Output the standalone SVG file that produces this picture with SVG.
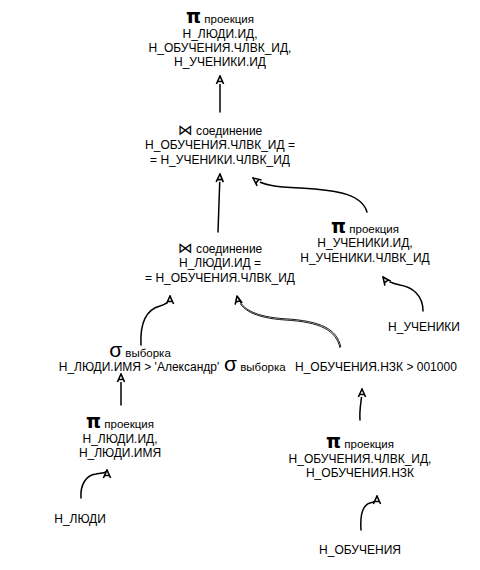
<svg xmlns="http://www.w3.org/2000/svg" width="480" height="570" viewBox="0 0 480 570">
<defs>
<style>
text{font-family:"Liberation Sans",Arial,sans-serif;font-size:12px;fill:#000;text-anchor:middle}
.op{font-family:"DejaVu Sans",sans-serif;font-size:19px;font-weight:bold}
.sg{font-size:21px}
.jn{font-family:"DejaVu Sans",sans-serif;font-size:15px}
.w{font-size:11.5px}
.s{text-anchor:start}
.c{fill:none;stroke:#000;stroke-width:1.5;stroke-linecap:round}
.c2{fill:none;stroke:#000;stroke-width:0.9}
</style>
<marker id="ah" viewBox="-10 -6 12 12" refX="0" refY="0" markerWidth="12" markerHeight="12" markerUnits="userSpaceOnUse" orient="auto">
<path d="M-8,-3.6 L0,0 L-8,3.6 M-5.5,-2.6 L-5.5,2.6" fill="#fff" stroke="#000" stroke-width="1.6" stroke-linejoin="round"/>
</marker>
</defs>
<rect width="480" height="570" fill="#fff"/>
<g id="connectors">
<path class="c" d="M220,112 L220,76" marker-end="url(#ah)"/>
<path class="c" d="M218,232 L220,174" marker-end="url(#ah)"/>
<path class="c" d="M367,212 C362,195 340,190 300,188 C275,187 262,185 253,178" marker-end="url(#ah)"/>
<path class="c" d="M423,311 C423,295 412,287 400,285 C390,283 386,281 383,277" marker-end="url(#ah)"/>
<path class="c" d="M141,345 C140,325 145,310 160,306 C167,304 170,300 170,296" marker-end="url(#ah)"/>
<path class="c2" d="M340,348 C336,330 320,322 285,320 C255,318 240,310 237,296" marker-end="url(#ah)"/>
<path class="c2" d="M340.8,347 C337,329 321,321 285.5,318.8 C256,317 241,309 238,297"/>
<path class="c" d="M121,405 L121,374" marker-end="url(#ah)"/>
<path class="c" d="M81,498 C80,485 86,475 96,474 C103,473 107,473 107,470" marker-end="url(#ah)"/>
<path class="c" d="M360,420 C359,408 362,400 362,389" marker-end="url(#ah)"/>
<path class="c" d="M361,530 C360,515 363,505 370,503 C376,502 377,499 377,496" marker-end="url(#ah)"/>
</g>
<g id="proj-top">
<text x="220" y="23"><tspan class="op">π</tspan><tspan class="w"> проекция</tspan></text>
<text x="220" y="38">Н_ЛЮДИ.ИД,</text>
<text x="220" y="52">Н_ОБУЧЕНИЯ.ЧЛВК_ИД,</text>
<text x="220" y="66">Н_УЧЕНИКИ.ИД</text>
</g>
<g id="join-top">
<text x="220" y="135"><tspan class="jn">⋈</tspan><tspan> соединение</tspan></text>
<text x="220" y="149">Н_ОБУЧЕНИЯ.ЧЛВК_ИД =</text>
<text x="220" y="164">= Н_УЧЕНИКИ.ЧЛВК_ИД</text>
</g>
<g id="proj-students">
<text x="365" y="233"><tspan class="op">π</tspan><tspan class="w"> проекция</tspan></text>
<text x="365" y="247">Н_УЧЕНИКИ.ИД,</text>
<text x="365" y="262">Н_УЧЕНИКИ.ЧЛВК_ИД</text>
</g>
<g id="join-left">
<text x="220" y="253"><tspan class="jn">⋈</tspan><tspan> соединение</tspan></text>
<text x="220" y="267">Н_ЛЮДИ.ИД =</text>
<text x="220" y="282">= Н_ОБУЧЕНИЯ.ЧЛВК_ИД</text>
</g>
<g id="students">
<text x="424" y="331">Н_УЧЕНИКИ</text>
</g>
<g id="select-people">
<text x="140" y="357"><tspan class="sg">σ</tspan><tspan class="w"> выборка</tspan></text>
<text x="139" y="371">Н_ЛЮДИ.ИМЯ &gt; 'Александр'</text>
</g>
<g id="select-study">
<text class="s" x="224" y="371"><tspan class="sg">σ</tspan><tspan class="w"> выборка</tspan></text>
<text class="s" x="295" y="371">Н_ОБУЧЕНИЯ.НЗК &gt; 001000</text>
</g>
<g id="proj-people">
<text x="120" y="428"><tspan class="op">π</tspan><tspan class="w"> проекция</tspan></text>
<text x="120" y="443">Н_ЛЮДИ.ИД,</text>
<text x="120" y="457">Н_ЛЮДИ.ИМЯ</text>
</g>
<g id="people">
<text x="80" y="523">Н_ЛЮДИ</text>
</g>
<g id="proj-study">
<text x="360" y="448"><tspan class="op">π</tspan><tspan class="w"> проекция</tspan></text>
<text x="360" y="463">Н_ОБУЧЕНИЯ.ЧЛВК_ИД,</text>
<text x="360" y="477">Н_ОБУЧЕНИЯ.НЗК</text>
</g>
<g id="study">
<text x="360" y="554">Н_ОБУЧЕНИЯ</text>
</g>
</svg>
